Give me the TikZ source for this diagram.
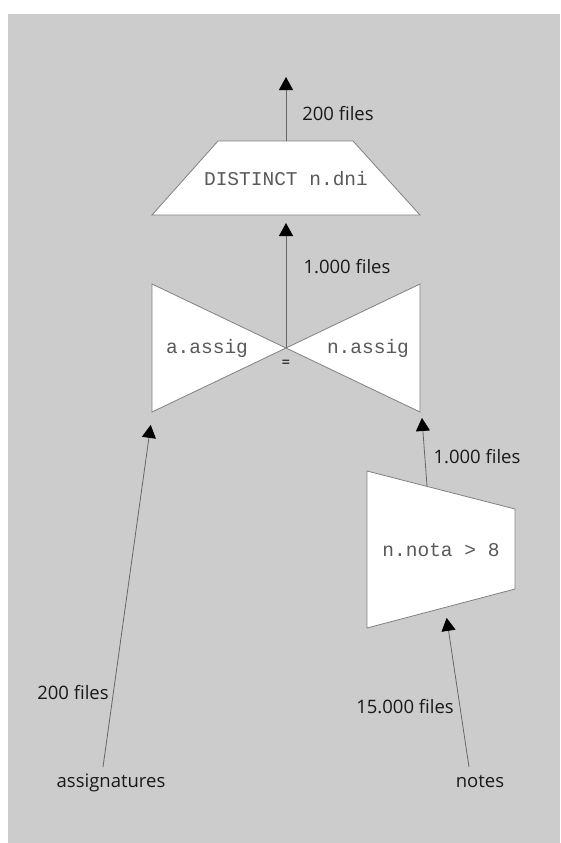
\documentclass[tikz,border=0pt]{standalone}
\usepackage{fontspec}
\setsansfont{Open Sans}
\setmonofont{Liberation Mono}
\usetikzlibrary{arrows.meta}

\begin{document}
\begin{tikzpicture}[x=1pt,y=-1pt,
  opshape/.style={fill=white, draw=black!50, line width=0.8pt, line join=miter},
  flow/.style={draw=black!60, line width=0.8pt,
    -{Triangle[width=14pt,length=13pt,color=black]}},
  lbl/.style={font=\sffamily\fontsize{18.5}{22}\selectfont, text=black!90,
    inner sep=0pt, anchor=base},
  expr/.style={font=\ttfamily\fontsize{19.5}{22}\selectfont, text=black!65,
    inner sep=0pt, anchor=base},
]
% canvas and grey panel
\path[use as bounding box] (0,0) rectangle (560,843);
\fill[black!20] (8,14) rectangle (560,843);

% projection (DISTINCT)
\draw[opshape] (218,141) -- (353,141) -- (420,215) -- (152,215) -- cycle;
\node[expr] (dist) at (286,185) {DISTINCT n.dni};
\coordinate (distTop) at (286,141);
\coordinate (distBot) at (286,215);
\coordinate (result) at (286,77);

% join (bow tie)
\draw[opshape] (152,284) -- (286,348) -- (152,412) -- cycle;
\draw[opshape] (420,284) -- (286,348) -- (420,412) -- cycle;
\node[expr] (jl) at (207,353) {a.assig};
\node[expr] (jr) at (368,353) {n.assig};
\node[font=\sffamily\fontsize{15}{18}\selectfont, inner sep=0pt] (eq) at (286,364) {=};
\coordinate (joinC) at (286,348);
\coordinate (joinL) at (152.5,412);
\coordinate (joinR) at (421.5,412);

% selection
\draw[opshape] (367,471) -- (515,509) -- (515,589) -- (367,628) -- cycle;
\node[expr] (sel) at (441,556) {n.nota > 8};
\coordinate (selTop) at (427,486);
\coordinate (selBot) at (445,607);

% base tables
\node[lbl] (assig) at (111,787) {assignatures};
\node[lbl] (notes) at (480,787) {notes};
\coordinate (assigTop) at (103,767);
\coordinate (notesTop) at (469,767);

% data flows
\draw[flow] (distTop) -- (result);
\draw[flow, shorten >=8pt] (joinC) -- (distBot);
\draw[flow, shorten >=6pt] (selTop) -- (joinR);
\draw[flow, shorten >=13pt] (assigTop) -- (joinL);
\draw[flow, shorten >=11pt] (notesTop) -- (selBot);

% cardinalities
\node[lbl] (c1) at (338,120) {200 files};
\node[lbl] (c2) at (347,273) {1.000 files};
\node[lbl] (c3) at (477,463) {1.000 files};
\node[lbl] (c4) at (73,699) {200 files};
\node[lbl] (c5) at (405,713) {15.000 files};
\end{tikzpicture}
\end{document}
